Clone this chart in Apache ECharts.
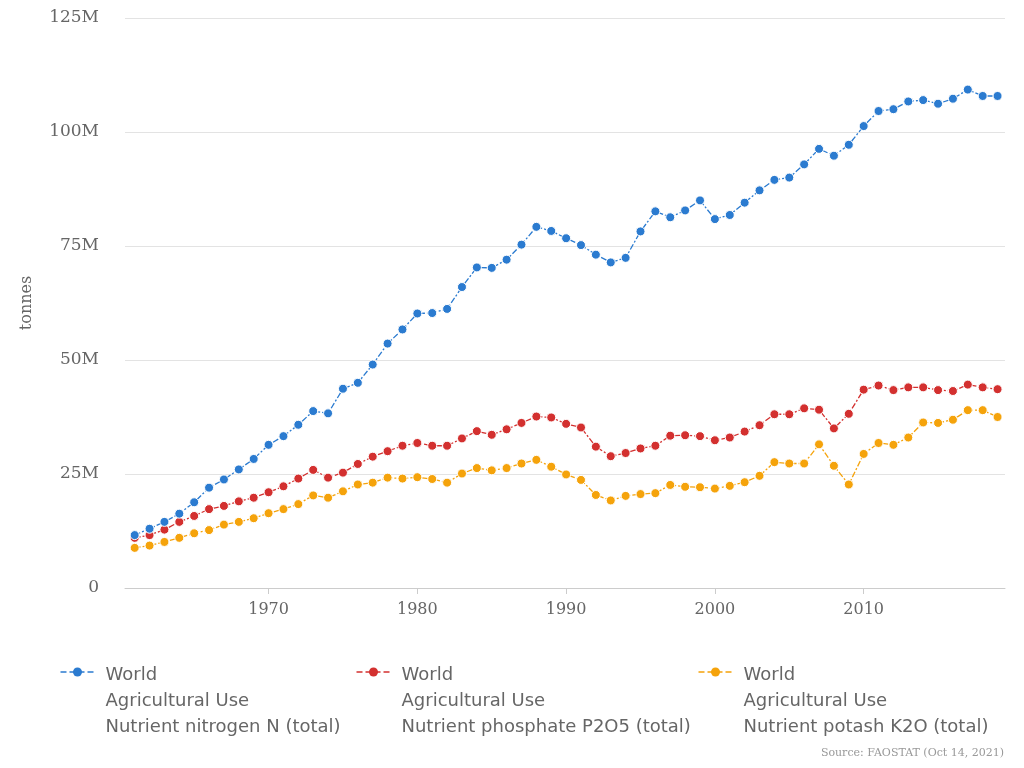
<!DOCTYPE html>
<html><head><meta charset="utf-8">
<script src="https://cdn.jsdelivr.net/npm/echarts@6/dist/echarts.min.js"></script>
<style>html,body{margin:0;padding:0;background:#fff}#c{width:1024px;height:768px}</style>
</head><body><div id="c"></div>
<script>
const years = [];
for (let y = 1961; y <= 2019; y++) years.push(y);
const nitrogen = [11.6,13,14.5,16.3,18.8,22,23.8,26,28.3,31.4,33.3,35.8,38.8,38.3,43.7,45,49,53.6,56.7,60.2,60.3,61.2,66,70.3,70.2,72,75.3,79.2,78.3,76.7,75.2,73.1,71.4,72.4,78.2,82.6,81.3,82.8,85,80.9,81.8,84.5,87.2,89.5,90,92.9,96.3,94.8,97.2,101.3,104.6,105,106.7,107,106.2,107.3,109.3,107.9,107.9];
const phosphate = [11,11.6,12.8,14.5,15.8,17.3,18,19,19.8,21,22.3,24,25.9,24.2,25.3,27.2,28.8,30,31.2,31.8,31.2,31.2,32.8,34.4,33.6,34.8,36.2,37.6,37.4,36,35.2,31,28.9,29.6,30.6,31.2,33.4,33.5,33.3,32.4,33,34.3,35.7,38.1,38.1,39.4,39.1,35,38.2,43.5,44.4,43.4,44,44,43.4,43.2,44.6,44,43.6];
const potash = [8.8,9.3,10.1,11,12,12.7,13.9,14.5,15.3,16.4,17.3,18.4,20.3,19.8,21.2,22.7,23.1,24.2,24,24.3,23.9,23.1,25.1,26.3,25.8,26.3,27.3,28.1,26.6,24.9,23.7,20.4,19.2,20.2,20.6,20.8,22.6,22.2,22.1,21.8,22.4,23.2,24.6,27.6,27.3,27.3,31.5,26.8,22.7,29.4,31.8,31.4,33,36.3,36.2,36.9,39,39,37.5];
const names = [
  'World\nAgricultural Use\nNutrient nitrogen N (total)',
  'World\nAgricultural Use\nNutrient phosphate P2O5 (total)',
  'World\nAgricultural Use\nNutrient potash K2O (total)'
];
const colors = ['#2b7bd0', '#d3302f', '#f5a30b'];
const xTicks = [1970, 1980, 1990, 2000, 2010];

const font = 'DejaVu Serif';
const chart = echarts.init(document.getElementById('c'));
const mk = (name, vals, i) => ({
  name, type: 'line',
  data: years.map((y, k) => [y, vals[k] * 1e6]),
  symbol: 'circle', symbolSize: 9,
  itemStyle: {color: colors[i], borderColor: '#fff', borderWidth: 1},
  lineStyle: {color: colors[i], width: 1.3, type: [6, 2, 2, 2]},
  z: 3 - i
});
// legend drawn as graphic groups (icon: dashed line + dot, then 3-line label)
const legendLeft = [58, 354, 696];
const legendItem = (i) => ({
  type: 'group', left: legendLeft[i], top: 662,
  children: [
    {type: 'line', shape: {x1: 0, y1: 10, x2: 34, y2: 10},
      style: {stroke: colors[i], lineWidth: 1.3, lineDash: [6, 3]}},
    {type: 'circle', shape: {cx: 17, cy: 10, r: 4.5}, style: {fill: colors[i]}},
    {type: 'text', x: 45, y: 0,
      style: {text: names[i], fill: '#666', fontSize: 18, fontFamily: 'DejaVu Sans', lineHeight: 26}}
  ]
});
chart.setOption({
  animation: false,
  textStyle: {fontFamily: font},
  grid: {left: 125, right: 19, top: 18, bottom: 180},
  xAxis: {
    type: 'value', min: 1960.35, max: 2019.5,
    axisLine: {lineStyle: {color: '#ccc'}},
    axisTick: {show: true, customValues: xTicks, length: 6, lineStyle: {color: '#ccc'}},
    axisLabel: {customValues: xTicks, color: '#666', fontSize: 16, fontFamily: font, margin: 14,
      formatter: v => String(v)},
    splitLine: {show: false}
  },
  yAxis: {
    type: 'value', min: 0, max: 125e6, interval: 25e6,
    name: 'tonnes', nameLocation: 'middle', nameGap: 90,
    nameTextStyle: {color: '#666', fontSize: 16, fontFamily: font},
    axisLine: {show: false}, axisTick: {show: false},
    axisLabel: {color: '#666', fontSize: 17, fontFamily: font, margin: 26,
      formatter: v => v === 0 ? '0' : (v / 1e6) + 'M'},
    splitLine: {lineStyle: {color: '#e3e3e3'}}
  },
  graphic: [legendItem(0), legendItem(1), legendItem(2),
    {type: 'text', right: 20, top: 748,
      style: {text: 'Source: FAOSTAT (Oct 14, 2021)', fill: '#999', fontSize: 11, fontFamily: font}}],
  series: [mk(names[0], nitrogen, 0), mk(names[1], phosphate, 1), mk(names[2], potash, 2)]
});
</script></body></html>
